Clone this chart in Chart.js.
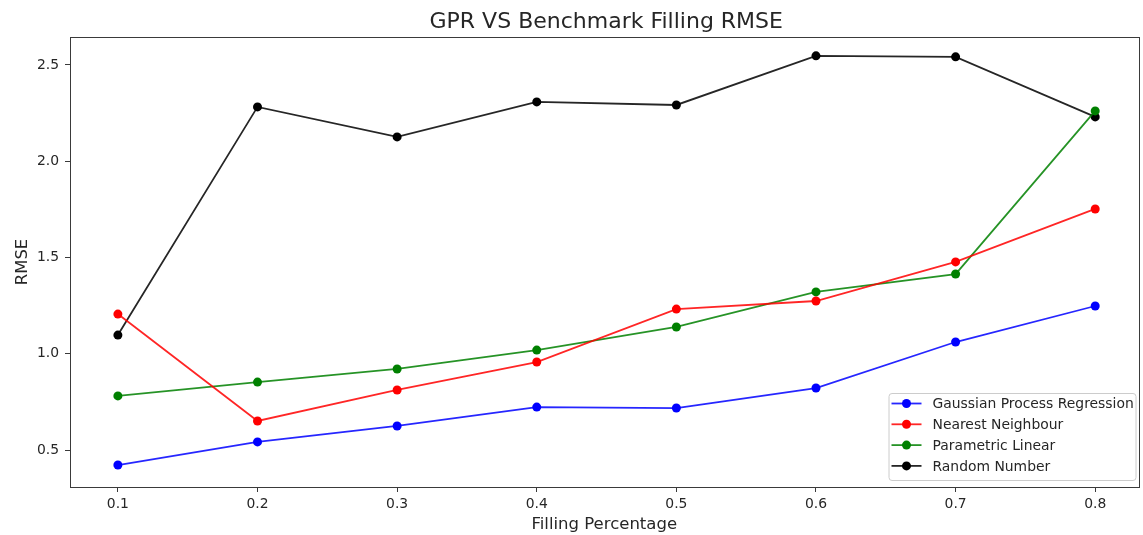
<!DOCTYPE html>
<html>
<head>
<meta charset="utf-8">
<script src="https://cdn.jsdelivr.net/npm/chart.js@4.4.1/dist/chart.umd.min.js"></script>
<style>
    html, body { margin: 0; padding: 0; background: #fff; }
    #wrap { width: 1143px; height: 535px; position: relative; }
</style>
</head>
<body>
<div id="wrap"><canvas id="rmseChart" width="1143" height="535"></canvas></div>
<script>
    // =================== Datos ===================

    const fillPct = [0.1, 0.2, 0.3, 0.4, 0.5, 0.6, 0.7, 0.8];

    const gprRmse = [0.422, 0.542, 0.625, 0.723, 0.718, 0.822, 1.061, 1.248];
    const nearestRmse = [1.206, 0.651, 0.812, 0.957, 1.232, 1.274, 1.477, 1.752];
    const linearRmse = [0.781, 0.853, 0.921, 1.019, 1.139, 1.321, 1.414, 2.261];
    const randomRmse = [1.097, 2.282, 2.126, 2.308, 2.292, 2.547, 2.542, 2.230];

    const xTicks = [0.1, 0.2, 0.3, 0.4, 0.5, 0.6, 0.7, 0.8];
    const yTicks = [0.5, 1.0, 1.5, 2.0, 2.5];

    const chartTitle = 'GPR VS Benchmark Filling RMSE';
    const seriesNames = ['Gaussian Process Regression', 'Nearest Neighbour', 'Parametric Linear', 'Random Number'];
    const seriesColors = ['#0000ff', '#ff0000', '#008000', '#000000'];
    const lineColors = ['rgba(0,0,255,0.85)', 'rgba(255,0,0,0.85)', 'rgba(0,128,0,0.85)', 'rgba(0,0,0,0.85)'];

    // =================== Helpers ===================

    function toPoints(values) {
        return fillPct.map((x, i) => ({ x: x, y: values[i] }));
    }

    function makeDataset(idx, values) {
        return {
            label: seriesNames[idx],
            data: toPoints(values),
            borderColor: lineColors[idx],
            backgroundColor: seriesColors[idx],
            pointBackgroundColor: seriesColors[idx],
            pointBorderColor: seriesColors[idx],
            pointRadius: 4.5,
            pointBorderWidth: 0,
            borderWidth: 1.8,
            tension: 0
        };
    }

    const FONT = "'DejaVu Sans', sans-serif";
    const TEXT = '#262626';

    // marco completo alrededor del área + título centrado sobre el área
    const framePlugin = {
        id: 'frame',
        afterDatasetsDraw(chart) {
            const a = chart.chartArea;
            const ctx = chart.ctx;
            ctx.save();
            ctx.strokeStyle = '#3a3a3a';
            ctx.lineWidth = 1;
            ctx.strokeRect(Math.round(a.left) + 0.5, Math.round(a.top) + 0.5,
                Math.round(a.right - a.left), Math.round(a.bottom - a.top));

            ctx.fillStyle = TEXT;
            ctx.font = '22px ' + FONT;
            ctx.textAlign = 'center';
            ctx.textBaseline = 'alphabetic';
            ctx.fillText(chartTitle, (a.left + a.right) / 2 + 2, 28);
            ctx.restore();
        }
    };

    // leyenda dentro del área, abajo a la derecha (como matplotlib)
    const innerLegend = {
        id: 'innerLegend',
        afterDraw(chart) {
            const a = chart.chartArea;
            const ctx = chart.ctx;
            const boxW = 247, boxH = 87;
            const x0 = a.right - boxW - 3;
            const y0 = a.bottom - boxH - 7;
            ctx.save();
            ctx.fillStyle = 'rgba(255,255,255,0.85)';
            ctx.strokeStyle = '#cccccc';
            ctx.lineWidth = 1;
            ctx.beginPath();
            ctx.roundRect(x0 + 0.5, y0 + 0.5, boxW, boxH, 3);
            ctx.fill();
            ctx.stroke();

            ctx.font = '13.9px ' + FONT;
            ctx.textBaseline = 'middle';
            seriesNames.forEach((name, i) => {
                const yy = y0 + 10.5 + i * 20.8;
                ctx.strokeStyle = lineColors[i];
                ctx.lineWidth = 1.8;
                ctx.beginPath();
                ctx.moveTo(x0 + 3, yy);
                ctx.lineTo(x0 + 33, yy);
                ctx.stroke();
                ctx.fillStyle = seriesColors[i];
                ctx.beginPath();
                ctx.arc(x0 + 18, yy, 4.5, 0, Math.PI * 2);
                ctx.fill();
                ctx.fillStyle = TEXT;
                ctx.fillText(name, x0 + 44, yy + 1);
            });
            ctx.restore();
        }
    };

    // =================== Chart ===================

    const ctx = document.getElementById('rmseChart').getContext('2d');

    new Chart(ctx, {
        type: 'line',
        data: {
            datasets: [
                makeDataset(0, gprRmse),
                makeDataset(1, nearestRmse),
                makeDataset(2, linearRmse),
                makeDataset(3, randomRmse)
            ]
        },
        options: {
            responsive: false,
            animation: false,
            layout: { padding: { top: 37, right: 1, bottom: 0, left: 0 } },
            plugins: {
                legend: { display: false },
                tooltip: { enabled: false },
                title: { display: false }
            },
            scales: {
                x: {
                    type: 'linear',
                    min: 0.0657,
                    max: 0.831,
                    afterBuildTicks: s => { s.ticks = xTicks.map(v => ({ value: v })); },
                    afterFit: s => { s.height = 48; },
                    grid: { display: true, drawOnChartArea: false, drawTicks: true, tickLength: 5, tickColor: '#3a3a3a' },
                    border: { display: true, color: '#3a3a3a' },
                    ticks: {
                        color: TEXT,
                        font: { family: FONT, size: 13.9 },
                        padding: 4,
                        maxRotation: 0,
                        callback: v => Number(v).toFixed(1)
                    },
                    title: {
                        display: true,
                        text: 'Filling Percentage',
                        color: TEXT,
                        font: { family: FONT, size: 16.5 },
                        padding: { top: 0, bottom: 0 }
                    }
                },
                y: {
                    min: 0.308,
                    max: 2.645,
                    afterBuildTicks: s => { s.ticks = yTicks.map(v => ({ value: v })); },
                    afterFit: s => { s.width = 70; },
                    grid: { display: true, drawOnChartArea: false, drawTicks: true, tickLength: 5, tickColor: '#3a3a3a' },
                    border: { display: true, color: '#3a3a3a' },
                    ticks: {
                        color: TEXT,
                        font: { family: FONT, size: 13.9 },
                        padding: 6,
                        callback: v => Number(v).toFixed(1)
                    },
                    title: {
                        display: true,
                        text: 'RMSE',
                        color: TEXT,
                        font: { family: FONT, size: 16.5 },
                        padding: { top: 13, bottom: 0 }
                    }
                }
            }
        },
        plugins: [framePlugin, innerLegend]
    });
</script>
</body>
</html>
